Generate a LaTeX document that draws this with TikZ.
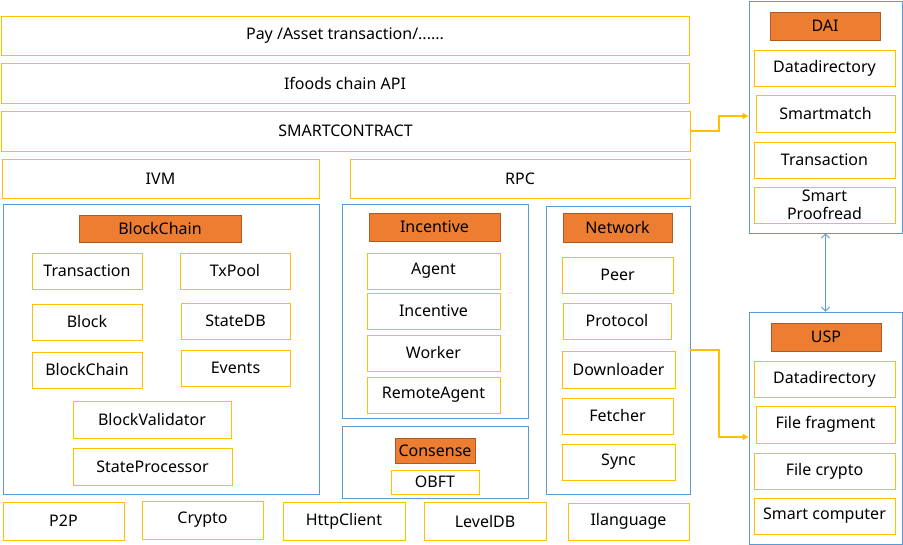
\documentclass[tikz,border=0pt]{standalone}
\usepackage{fontspec}
\setmainfont{Noto Sans}
\usetikzlibrary{arrows.meta}
\definecolor{gold}{HTML}{FFC000}
\definecolor{skyblue}{HTML}{5B9BD5}
\definecolor{headorange}{HTML}{ED7D31}
\definecolor{headedge}{HTML}{AE5A21}
\begin{document}
\begin{tikzpicture}[x=1pt, y=-1pt,
    every node/.style={font=\fontsize{16}{18.5}\selectfont, inner sep=0pt},
    ybox/.style={draw=gold, line width=0.9pt},
    cbox/.style={draw=skyblue, line width=0.9pt},
    hbox/.style={draw=headedge, fill=headorange, line width=0.9pt}]
    \useasboundingbox (0,0) rectangle (903,545);

    % top layers
    \node[ybox, minimum width=688pt, minimum height=39pt] (pay) at (345,35.5) {Pay /Asset transaction/......};
    \node[ybox, minimum width=688pt, minimum height=40pt] (api) at (345,83) {Ifoods chain API};
    \node[ybox, minimum width=689pt, minimum height=40pt] (sc) at (345.5,131) {SMARTCONTRACT};
    \node[ybox, minimum width=317pt, minimum height=39pt] (ivm) at (160.5,178.5) {IVM};
    \node[ybox, minimum width=340pt, minimum height=39pt] (rpc) at (520,178.5) {RPC};

    % blockchain
    \node[cbox, minimum width=316pt, minimum height=290pt] (bc) at (161,349) {};
    \node[hbox, minimum width=162pt, minimum height=27pt] (bchead) at (160,228.5) {BlockChain};
    \node[ybox, minimum width=110pt, minimum height=36pt] (tx) at (87,271) {Transaction};
    \node[ybox, minimum width=110pt, minimum height=36pt] (txpool) at (235,271) {TxPool};
    \node[ybox, minimum width=110pt, minimum height=36pt] (block) at (87,322) {Block};
    \node[ybox, minimum width=109pt, minimum height=36pt] (statedb) at (235.5,321) {StateDB};
    \node[ybox, minimum width=110pt, minimum height=36pt] (chain) at (87,370) {BlockChain};
    \node[ybox, minimum width=109pt, minimum height=36pt] (events) at (235.5,368) {Events};
    \node[ybox, minimum width=158pt, minimum height=37pt] (bval) at (152,419.5) {BlockValidator};
    \node[ybox, minimum width=159pt, minimum height=37pt] (sproc) at (152.5,466.5) {StateProcessor};

    % incentive
    \node[cbox, minimum width=186pt, minimum height=214pt] (inc) at (435,311) {};
    \node[hbox, minimum width=131pt, minimum height=28pt] (inchead) at (434.5,227) {Incentive};
    \node[ybox, minimum width=133pt, minimum height=36pt] (agent) at (433.5,271) {Agent};
    \node[ybox, minimum width=133pt, minimum height=36pt] (incv) at (433.5,311) {Incentive};
    \node[ybox, minimum width=133pt, minimum height=36pt] (worker) at (433.5,353) {Worker};
    \node[ybox, minimum width=133pt, minimum height=36pt] (ragent) at (433.5,395) {RemoteAgent};

    % consense
    \node[cbox, minimum width=186pt, minimum height=72pt] (cons) at (435,462) {};
    \node[hbox, minimum width=80pt, minimum height=25pt] (conshead) at (435,450.5) {Consense};
    \node[ybox, minimum width=88pt, minimum height=24pt] (obft) at (435,482) {OBFT};

    % network
    \node[cbox, minimum width=144pt, minimum height=288pt] (net) at (618,350) {};
    \node[hbox, minimum width=109pt, minimum height=29pt] (nethead) at (617.5,227.5) {Network};
    \node[ybox, minimum width=111pt, minimum height=36pt] (peer) at (617.5,275) {Peer};
    \node[ybox, minimum width=108pt, minimum height=36pt] (proto) at (617,321) {Protocol};
    \node[ybox, minimum width=113pt, minimum height=37pt] (down) at (618.5,369.5) {Downloader};
    \node[ybox, minimum width=111pt, minimum height=36pt] (fetch) at (617.5,416) {Fetcher};
    \node[ybox, minimum width=113pt, minimum height=36pt] (sync) at (618.5,462) {Sync};

    % bottom row
    \node[ybox, minimum width=121pt, minimum height=38pt] (p2p) at (63.5,521) {P2P};
    \node[ybox, minimum width=121pt, minimum height=38pt] (crypto) at (202.5,520) {Crypto};
    \node[ybox, minimum width=122pt, minimum height=38pt] (http) at (344,521) {HttpClient};
    \node[ybox, minimum width=122pt, minimum height=38pt] (level) at (485,521) {LevelDB};
    \node[ybox, minimum width=121pt, minimum height=37pt] (ilang) at (628.5,521.5) {Ilanguage};

    % DAI
    \node[cbox, minimum width=153pt, minimum height=232pt] (dai) at (825.5,117) {};
    \node[hbox, minimum width=110pt, minimum height=28pt] (daihead) at (825,26) {DAI};
    \node[ybox, minimum width=141pt, minimum height=36pt] (ddir) at (824.5,68) {Datadirectory};
    \node[ybox, minimum width=139pt, minimum height=37pt] (smatch) at (825.5,113.5) {Smartmatch};
    \node[ybox, minimum width=141pt, minimum height=36pt] (dtx) at (824.5,160) {Transaction};
    \node[ybox, minimum width=141pt, minimum height=36pt, align=center] (sproof) at (824.5,205) {Smart\\Proofread};

    % USP
    \node[cbox, minimum width=153pt, minimum height=232pt] (usp) at (825.5,428) {};
    \node[hbox, minimum width=110pt, minimum height=28pt] (usphead) at (826,337) {USP};
    \node[ybox, minimum width=141pt, minimum height=36pt] (udir) at (824.5,379) {Datadirectory};
    \node[ybox, minimum width=139pt, minimum height=37pt] (ffrag) at (825.5,424.5) {File fragment};
    \node[ybox, minimum width=141pt, minimum height=36pt] (fcrypto) at (824.5,471) {File crypto};
    \node[ybox, minimum width=141pt, minimum height=36pt] (scomp) at (824.5,516) {Smart computer};

    % links
    \coordinate (k1) at (719,116);
    \coordinate (k2) at (719,437);
    \draw[gold, line width=2pt, -{Triangle[length=6pt,width=6pt]}]
      (sc.east) -| (k1) -- (k1 -| dai.west);
    \draw[gold, line width=2pt, -{Triangle[length=6pt,width=6pt]}]
      (net.east) -| (k2) -- (k2 -| usp.west);
    \draw[skyblue, line width=0.9pt, {Straight Barb[length=4pt]}-{Straight Barb[length=4pt]}]
      (dai.south) -- (usp.north);
  \end{tikzpicture}
\end{document}
